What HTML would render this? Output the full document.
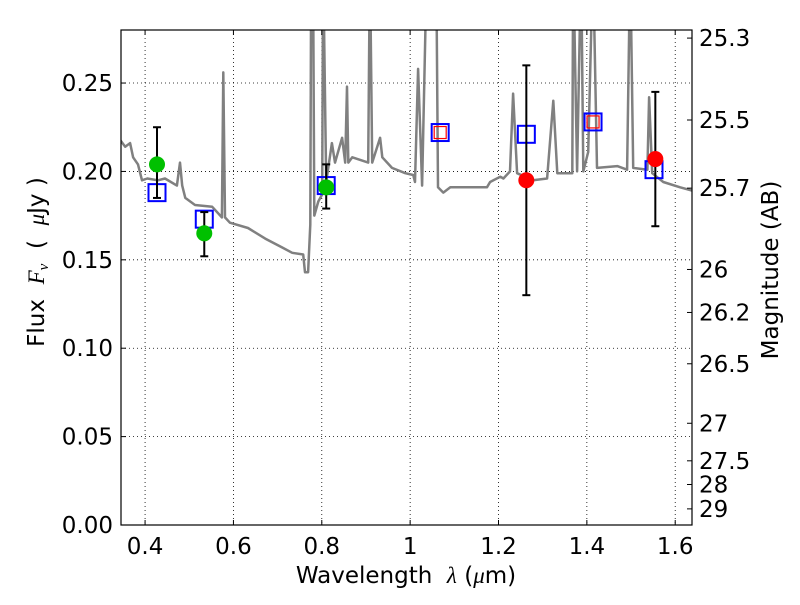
<!DOCTYPE html>
<html><head><meta charset="utf-8"><style>
body{margin:0;background:#fff;}
svg text{font-family:"DejaVu Sans","Liberation Sans",sans-serif;fill:#000;}
</style></head><body>
<svg id="chart" width="800" height="600" xmlns="http://www.w3.org/2000/svg">
<rect width="800" height="600" fill="#fff"/>
<g id="grid"></g><g id="plot"></g><g id="axes"></g>
</svg>
<script>
const specLam=[0.34,0.343,0.355,0.366,0.373,0.384,0.393,0.405,0.429,0.445,0.472,0.479,0.484,0.491,0.513,0.552,0.574,0.577,0.581,0.592,0.633,0.672,0.710,0.733,0.758,0.762,0.769,0.774,0.776,0.780,0.783,0.792,0.801,0.803,0.810,0.823,0.830,0.846,0.853,0.857,0.860,0.869,0.905,0.909,0.914,0.932,0.937,0.959,0.989,1.007,1.011,1.018,1.027,1.038,1.059,1.063,1.075,1.091,1.129,1.174,1.181,1.204,1.211,1.226,1.233,1.242,1.278,1.310,1.324,1.333,1.367,1.369,1.378,1.387,1.392,1.403,1.414,1.423,1.469,1.491,1.498,1.505,1.537,1.541,1.548,1.573,1.611,1.641];
const specFlux=[0.208,0.218,0.214,0.216,0.208,0.204,0.195,0.196,0.195,0.196,0.192,0.205,0.192,0.185,0.181,0.180,0.174,0.256,0.174,0.171,0.168,0.162,0.157,0.154,0.153,0.143,0.143,0.170,0.32,0.32,0.175,0.183,0.187,0.32,0.194,0.216,0.205,0.219,0.205,0.248,0.205,0.208,0.205,0.32,0.205,0.219,0.208,0.202,0.199,0.198,0.194,0.258,0.192,0.32,0.32,0.191,0.188,0.191,0.191,0.191,0.194,0.197,0.196,0.200,0.244,0.199,0.195,0.196,0.240,0.199,0.199,0.32,0.200,0.32,0.200,0.211,0.32,0.202,0.203,0.201,0.32,0.202,0.201,0.242,0.199,0.194,0.191,0.189];
const detLam=[0.427,0.534,0.810];
const detFlux=[0.204,0.165,0.191];
const detLo=[0.185,0.152,0.179];
const detHi=[0.225,0.177,0.204];
const redLam=[1.263,1.555];
const redFlux=[0.195,0.207];
const redLo=[0.130,0.169];
const redHi=[0.260,0.245];
const modLam=[0.427,0.534,0.810,1.068,1.263,1.414,1.552];
const modFlux=[0.188,0.173,0.192,0.222,0.221,0.228,0.201];
const innerLam=[1.068,1.414];
const innerFlux=[0.222,0.228];
const xTicks=[0.4,0.6,0.8,1.0,1.2,1.4,1.6];
const xTickLabels=["0.4","0.6","0.8","1","1.2","1.4","1.6"];
const yTicks=[0,0.05,0.10,0.15,0.20,0.25];
const yTickLabels=["0.00","0.05","0.10","0.15","0.20","0.25"];
const magTicks=[25.3,25.5,25.7,26,26.2,26.5,27,27.5,28,29];
const magLabels=["25.3","25.5","25.7","26","26.2","26.5","27","27.5","28","29"];

const L=121,R=692,T=30,B=525,X0=0.3455,X1=1.638,Y0=0,Y1=0.28;
const sx=v=>L+(v-X0)/(X1-X0)*(R-L);
const sy=v=>B-(v-Y0)/(Y1-Y0)*(B-T);
const NS="http://www.w3.org/2000/svg";
function mk(tag,attrs,parent){const e=document.createElementNS(NS,tag);for(const k in attrs)e.setAttribute(k,attrs[k]);parent.appendChild(e);return e;}
const grid=document.getElementById('grid'),plot=document.getElementById('plot'),axes=document.getElementById('axes');
const cpath=mk('clipPath',{id:'clip'},plot);
mk('rect',{x:L,y:T,width:R-L,height:B-T},cpath);
const pg=mk('g',{'clip-path':'url(#clip)'},plot);

xTicks.forEach((v,i)=>{
  const g=mk('line',{x1:sx(v),x2:sx(v),y1:T,y2:B,stroke:'#000','stroke-width':0.8,'stroke-dasharray':'1,3'},grid);
  
  mk('line',{x1:sx(v),x2:sx(v),y1:B,y2:B-5,stroke:'#000'},axes);
  mk('line',{x1:sx(v),x2:sx(v),y1:T,y2:T+5,stroke:'#000'},axes);
  const t=mk('text',{x:sx(v),y:B+29,'text-anchor':'middle','font-size':23},axes);t.textContent=xTickLabels[i];
  
});
yTicks.forEach((v,i)=>{
  const g=mk('line',{x1:L,x2:R,y1:sy(v),y2:sy(v),stroke:'#000','stroke-width':0.8,'stroke-dasharray':'1,3'},grid);
  
  mk('line',{x1:L,x2:L+5,y1:sy(v),y2:sy(v),stroke:'#000'},axes);
  const t=mk('text',{x:L-8,y:sy(v)+8,'text-anchor':'end','font-size':23},axes);t.textContent=yTickLabels[i];
  
});
magTicks.forEach((m,i)=>{
  const y=sy(Math.pow(10,(23.9-m)/2.5));
  mk('line',{x1:R,x2:R-5,y1:y,y2:y,stroke:'#000'},axes);
  const t=mk('text',{x:R+7,y:y+8,'font-size':23},axes);t.textContent=magLabels[i];
  
});

const d=specLam.map((l,i)=>(i?'L':'M')+sx(l).toFixed(1)+','+sy(specFlux[i]).toFixed(1)).join(' ');
const sp=mk('path',{d:d,fill:'none',stroke:'#808080','stroke-width':2.5,'stroke-linejoin':'round'},pg);



function errbar(l,lo,hi){
  const g=mk('g',{stroke:'#000','stroke-width':2},pg);
  mk('line',{x1:sx(l),x2:sx(l),y1:sy(lo),y2:sy(hi)},g);
  mk('line',{x1:sx(l)-4,x2:sx(l)+4,y1:sy(lo),y2:sy(lo)},g);
  mk('line',{x1:sx(l)-4,x2:sx(l)+4,y1:sy(hi),y2:sy(hi)},g);
  
}
modLam.forEach((l,i)=>{
  const r=mk('rect',{x:sx(l)-8.5,y:sy(modFlux[i])-8.5,width:17,height:17,fill:'none',stroke:'#0000ff','stroke-width':2},pg);
  
});
innerLam.forEach((l,i)=>{
  const r=mk('rect',{x:sx(l)-6,y:sy(innerFlux[i])-6,width:12,height:12,fill:'none',stroke:'#ff0000','stroke-width':1.2},pg);
  
});
detLam.forEach((l,i)=>{
  errbar(l,detLo[i],detHi[i]);
  const c=mk('circle',{cx:sx(l),cy:sy(detFlux[i]),r:8,fill:'#00c000'},pg);
  
});
redLam.forEach((l,i)=>{
  errbar(l,redLo[i],redHi[i]);
  const c=mk('circle',{cx:sx(l),cy:sy(redFlux[i]),r:8,fill:'#ff0000'},pg);
  
});
const fr=mk('rect',{x:L,y:T,width:R-L,height:B-T,fill:'none',stroke:'#000','stroke-width':1.2},axes);

</script>
<svg style="position:absolute;left:0;top:0" width="800" height="600" xmlns="http://www.w3.org/2000/svg">
<text x="406" y="583" text-anchor="middle" font-size="23" xml:space="preserve">Wavelength  <tspan font-style="italic" font-family="Liberation Serif,serif">λ</tspan> (<tspan font-style="italic" font-family="Liberation Serif,serif">μ</tspan>m)</text>
<text transform="translate(44,262) rotate(-90)" text-anchor="middle" font-size="23" xml:space="preserve">Flux  <tspan font-style="italic" font-family="Liberation Serif,serif">F<tspan font-size="15" dy="4">ν</tspan></tspan><tspan dy="-4">  (  </tspan><tspan font-style="italic" font-family="Liberation Serif,serif">μ</tspan>Jy )</text>
<text transform="translate(778,270) rotate(-90)" text-anchor="middle" font-size="23">Magnitude (AB)</text>
</svg>
</body></html>
